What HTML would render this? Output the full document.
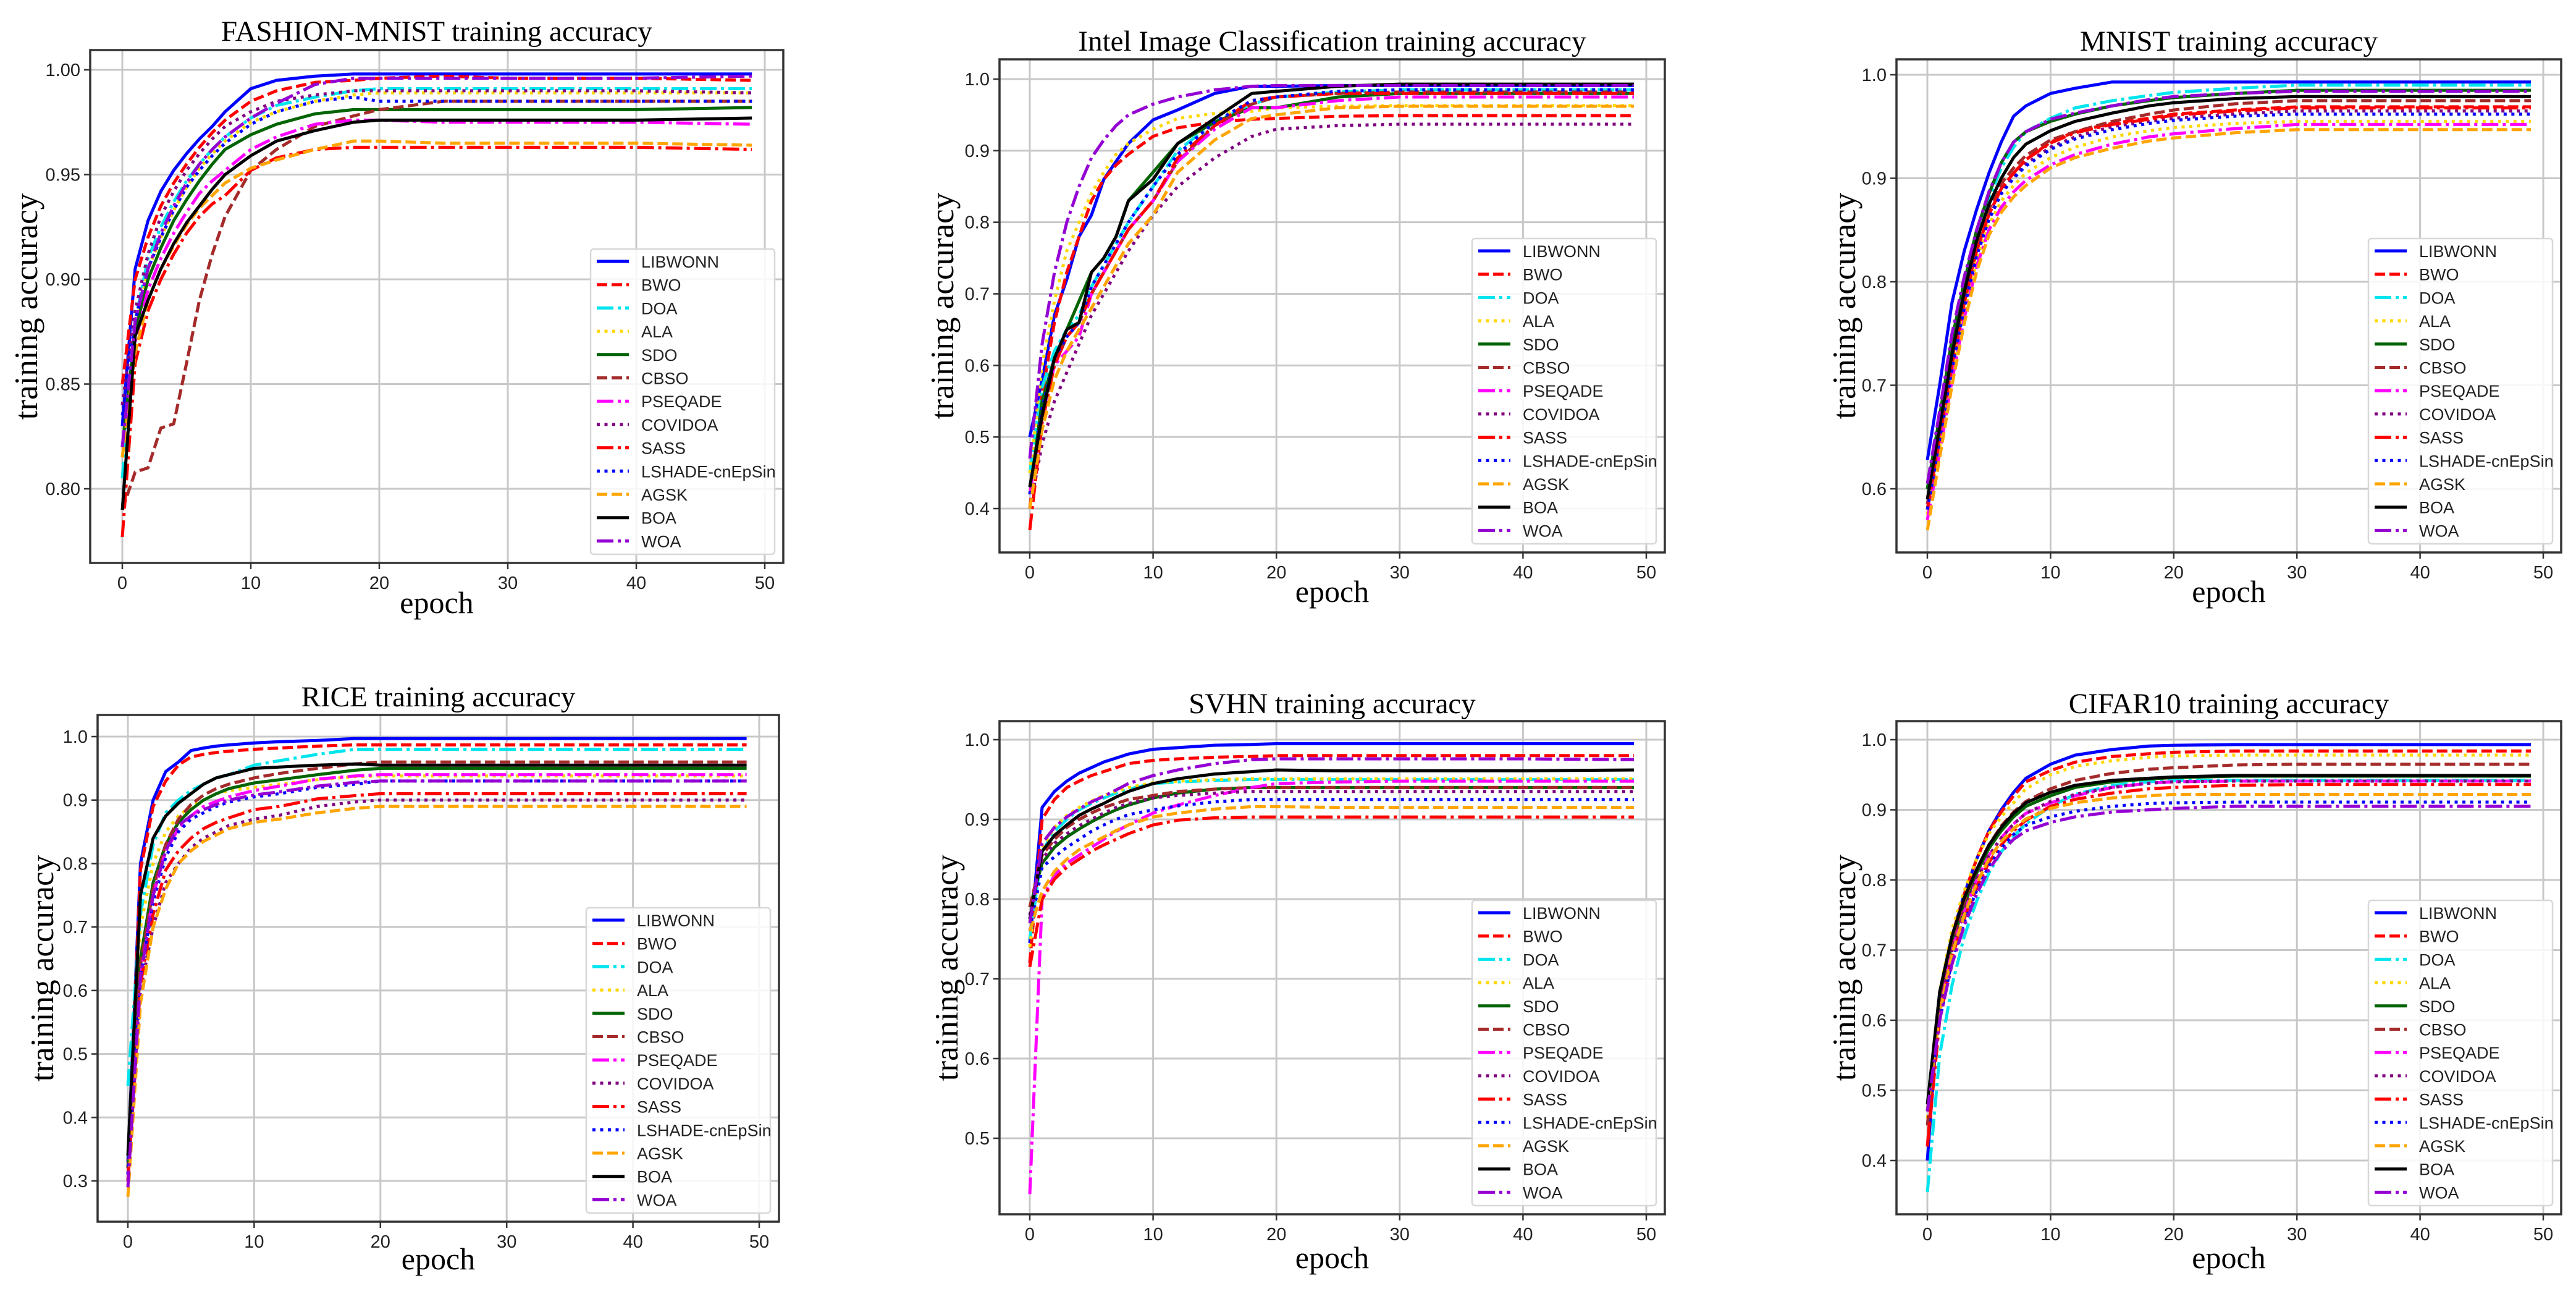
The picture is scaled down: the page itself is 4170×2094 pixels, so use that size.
<!DOCTYPE html>
<html><head><meta charset="utf-8"><style>
html,body{margin:0;padding:0;background:#fff}
svg{display:block}
</style></head><body>
<svg id="fig" xmlns="http://www.w3.org/2000/svg" width="4170" height="2094" viewBox="0 0 4170 2094"></svg>
<script>
const epochs=[0,1,2,3,4,5,6,7,8,10,12,15,18,20,25,30,40,49];
const seriesNames=["LIBWONN","BWO","DOA","ALA","SDO","CBSO","PSEQADE","COVIDOA","SASS","LSHADE-cnEpSin","AGSK","BOA","WOA"];
const xTicks=[0,10,20,30,40,50];
const fashionTicks=[0.80,0.85,0.90,0.95,1.00];
const intelTicks=[0.4,0.5,0.6,0.7,0.8,0.9,1.0];
const mnistTicks=[0.6,0.7,0.8,0.9,1.0];
const riceTicks=[0.3,0.4,0.5,0.6,0.7,0.8,0.9,1.0];
const svhnTicks=[0.5,0.6,0.7,0.8,0.9,1.0];
const cifarTicks=[0.4,0.5,0.6,0.7,0.8,0.9,1.0];

const fashion=[
[0.83,0.905,0.928,0.942,0.952,0.96,0.967,0.973,0.98,0.991,0.995,0.997,0.998,0.998,0.998,0.998,0.998,0.998],
[0.85,0.90,0.92,0.935,0.946,0.955,0.963,0.97,0.976,0.985,0.99,0.994,0.995,0.996,0.997,0.996,0.996,0.995],
[0.805,0.88,0.91,0.925,0.937,0.947,0.955,0.962,0.968,0.977,0.983,0.987,0.99,0.991,0.991,0.991,0.991,0.991],
[0.815,0.875,0.905,0.92,0.933,0.944,0.953,0.96,0.966,0.975,0.98,0.985,0.988,0.989,0.989,0.989,0.989,0.989],
[0.82,0.875,0.90,0.915,0.928,0.938,0.947,0.955,0.962,0.969,0.974,0.979,0.981,0.981,0.981,0.981,0.981,0.982],
[0.79,0.808,0.81,0.829,0.831,0.86,0.89,0.912,0.93,0.952,0.962,0.973,0.978,0.981,0.985,0.985,0.985,0.985],
[0.82,0.87,0.895,0.91,0.922,0.932,0.941,0.947,0.952,0.962,0.968,0.974,0.976,0.976,0.975,0.975,0.975,0.974],
[0.84,0.885,0.912,0.93,0.942,0.952,0.96,0.967,0.973,0.98,0.985,0.988,0.99,0.99,0.99,0.99,0.99,0.989],
[0.777,0.86,0.885,0.90,0.912,0.922,0.93,0.936,0.94,0.952,0.958,0.962,0.963,0.963,0.963,0.963,0.963,0.962],
[0.835,0.88,0.905,0.92,0.933,0.944,0.952,0.959,0.965,0.974,0.98,0.985,0.987,0.985,0.985,0.985,0.985,0.985],
[0.815,0.865,0.89,0.905,0.916,0.926,0.934,0.94,0.946,0.953,0.957,0.962,0.966,0.966,0.965,0.965,0.965,0.964],
[0.79,0.873,0.89,0.905,0.917,0.927,0.935,0.943,0.95,0.959,0.966,0.971,0.975,0.976,0.976,0.976,0.976,0.977],
[0.82,0.88,0.905,0.922,0.935,0.946,0.955,0.962,0.968,0.977,0.984,0.993,0.996,0.996,0.996,0.996,0.996,0.997]];
const intel=[
[0.50,0.58,0.67,0.72,0.78,0.81,0.86,0.885,0.91,0.943,0.957,0.98,0.99,0.99,0.991,0.991,0.991,0.991],
[0.40,0.56,0.66,0.73,0.78,0.83,0.86,0.88,0.895,0.92,0.932,0.94,0.944,0.945,0.948,0.949,0.949,0.949],
[0.45,0.57,0.62,0.65,0.67,0.71,0.74,0.77,0.80,0.85,0.90,0.94,0.965,0.975,0.982,0.985,0.985,0.985],
[0.45,0.60,0.69,0.76,0.80,0.84,0.87,0.895,0.91,0.93,0.945,0.952,0.955,0.96,0.962,0.963,0.963,0.963],
[0.42,0.55,0.61,0.65,0.69,0.73,0.75,0.78,0.83,0.87,0.91,0.94,0.96,0.96,0.975,0.98,0.98,0.98],
[0.40,0.53,0.60,0.64,0.66,0.70,0.73,0.76,0.79,0.83,0.885,0.935,0.965,0.975,0.98,0.982,0.982,0.982],
[0.42,0.53,0.60,0.62,0.64,0.70,0.73,0.76,0.79,0.83,0.885,0.93,0.96,0.96,0.97,0.975,0.975,0.975],
[0.40,0.49,0.55,0.59,0.63,0.67,0.70,0.73,0.76,0.81,0.85,0.89,0.92,0.93,0.935,0.937,0.937,0.937],
[0.37,0.52,0.60,0.64,0.66,0.70,0.73,0.76,0.79,0.83,0.89,0.935,0.97,0.975,0.98,0.98,0.98,0.98],
[0.42,0.54,0.61,0.64,0.66,0.71,0.74,0.77,0.80,0.85,0.895,0.94,0.97,0.975,0.983,0.985,0.985,0.985],
[0.40,0.51,0.58,0.62,0.65,0.68,0.71,0.74,0.77,0.81,0.87,0.915,0.945,0.95,0.96,0.962,0.962,0.962],
[0.43,0.53,0.61,0.65,0.66,0.73,0.75,0.78,0.83,0.86,0.91,0.945,0.98,0.983,0.99,0.993,0.993,0.993],
[0.47,0.63,0.73,0.80,0.85,0.89,0.915,0.935,0.95,0.965,0.975,0.985,0.99,0.991,0.991,0.991,0.991,0.991]];
const mnist=[
[0.628,0.70,0.78,0.83,0.87,0.905,0.935,0.96,0.97,0.982,0.987,0.993,0.993,0.993,0.993,0.993,0.993,0.993],
[0.58,0.65,0.72,0.78,0.83,0.865,0.89,0.905,0.918,0.935,0.945,0.953,0.958,0.962,0.966,0.969,0.969,0.969],
[0.60,0.67,0.74,0.80,0.85,0.88,0.91,0.93,0.945,0.958,0.968,0.975,0.98,0.983,0.987,0.99,0.99,0.99],
[0.575,0.64,0.71,0.77,0.82,0.855,0.878,0.893,0.905,0.92,0.93,0.94,0.946,0.949,0.953,0.955,0.955,0.955],
[0.60,0.67,0.745,0.80,0.85,0.885,0.915,0.935,0.945,0.955,0.962,0.97,0.975,0.978,0.982,0.985,0.985,0.985],
[0.585,0.655,0.725,0.785,0.835,0.87,0.895,0.91,0.922,0.937,0.945,0.955,0.962,0.966,0.972,0.975,0.975,0.975],
[0.57,0.635,0.705,0.765,0.815,0.85,0.872,0.887,0.898,0.913,0.923,0.933,0.94,0.943,0.948,0.952,0.952,0.952],
[0.58,0.648,0.718,0.778,0.828,0.862,0.887,0.902,0.914,0.93,0.94,0.95,0.955,0.958,0.962,0.965,0.965,0.965],
[0.58,0.65,0.72,0.78,0.83,0.865,0.89,0.905,0.918,0.934,0.944,0.952,0.957,0.961,0.965,0.968,0.968,0.968],
[0.58,0.645,0.715,0.775,0.825,0.86,0.885,0.90,0.912,0.928,0.938,0.947,0.953,0.956,0.96,0.962,0.962,0.962],
[0.56,0.63,0.70,0.76,0.81,0.845,0.867,0.882,0.893,0.91,0.92,0.929,0.936,0.939,0.944,0.947,0.947,0.947],
[0.59,0.66,0.73,0.79,0.84,0.875,0.90,0.92,0.933,0.946,0.955,0.963,0.97,0.973,0.977,0.979,0.979,0.979],
[0.605,0.675,0.75,0.805,0.85,0.887,0.915,0.935,0.945,0.957,0.963,0.97,0.976,0.979,0.982,0.984,0.984,0.984]];
const rice=[
[0.33,0.80,0.90,0.945,0.96,0.978,0.982,0.985,0.987,0.99,0.992,0.994,0.997,0.997,0.997,0.997,0.997,0.997],
[0.32,0.79,0.89,0.93,0.955,0.968,0.972,0.975,0.977,0.98,0.982,0.985,0.987,0.987,0.987,0.987,0.987,0.987],
[0.45,0.72,0.83,0.88,0.90,0.915,0.925,0.935,0.94,0.955,0.962,0.972,0.98,0.98,0.98,0.98,0.98,0.98],
[0.30,0.70,0.80,0.85,0.875,0.89,0.90,0.91,0.915,0.92,0.925,0.932,0.937,0.938,0.938,0.938,0.938,0.938],
[0.32,0.65,0.77,0.83,0.865,0.885,0.90,0.91,0.918,0.927,0.932,0.94,0.947,0.95,0.95,0.95,0.95,0.95],
[0.31,0.64,0.76,0.83,0.87,0.893,0.908,0.918,0.925,0.935,0.942,0.95,0.957,0.96,0.96,0.96,0.96,0.96],
[0.30,0.62,0.75,0.82,0.855,0.875,0.89,0.898,0.905,0.915,0.922,0.933,0.938,0.94,0.94,0.94,0.94,0.94],
[0.30,0.60,0.70,0.77,0.80,0.825,0.84,0.85,0.86,0.87,0.876,0.89,0.897,0.90,0.90,0.90,0.90,0.90],
[0.30,0.61,0.72,0.79,0.82,0.84,0.855,0.865,0.872,0.885,0.89,0.902,0.907,0.91,0.91,0.91,0.91,0.91],
[0.31,0.62,0.74,0.81,0.85,0.87,0.88,0.89,0.897,0.905,0.91,0.92,0.925,0.93,0.93,0.93,0.93,0.93],
[0.275,0.58,0.70,0.76,0.80,0.82,0.835,0.845,0.855,0.865,0.87,0.88,0.887,0.89,0.89,0.89,0.89,0.89],
[0.34,0.75,0.84,0.875,0.895,0.91,0.925,0.935,0.94,0.95,0.952,0.955,0.957,0.955,0.955,0.955,0.955,0.955],
[0.29,0.62,0.75,0.82,0.86,0.875,0.885,0.893,0.90,0.908,0.913,0.922,0.928,0.93,0.93,0.93,0.93,0.93]];
const svhn=[
[0.745,0.915,0.935,0.948,0.958,0.965,0.972,0.977,0.982,0.988,0.99,0.993,0.994,0.995,0.995,0.995,0.995,0.995],
[0.72,0.90,0.925,0.94,0.948,0.955,0.96,0.965,0.97,0.974,0.976,0.978,0.979,0.98,0.98,0.98,0.98,0.98],
[0.75,0.86,0.885,0.90,0.912,0.92,0.927,0.933,0.938,0.945,0.947,0.949,0.95,0.95,0.95,0.95,0.95,0.95],
[0.74,0.865,0.89,0.905,0.915,0.923,0.93,0.935,0.94,0.946,0.948,0.95,0.951,0.951,0.951,0.951,0.951,0.951],
[0.79,0.845,0.865,0.878,0.888,0.897,0.905,0.912,0.918,0.927,0.933,0.938,0.94,0.94,0.94,0.94,0.94,0.94],
[0.79,0.855,0.875,0.89,0.90,0.908,0.915,0.92,0.925,0.93,0.935,0.938,0.94,0.94,0.94,0.94,0.94,0.94],
[0.43,0.80,0.83,0.845,0.855,0.865,0.875,0.885,0.893,0.908,0.918,0.93,0.94,0.945,0.947,0.948,0.948,0.948],
[0.78,0.85,0.87,0.882,0.892,0.90,0.908,0.915,0.92,0.927,0.93,0.933,0.935,0.935,0.935,0.935,0.935,0.935],
[0.715,0.80,0.825,0.84,0.85,0.86,0.868,0.875,0.882,0.893,0.899,0.902,0.903,0.903,0.903,0.903,0.903,0.903],
[0.76,0.84,0.853,0.865,0.875,0.885,0.893,0.90,0.906,0.912,0.917,0.922,0.925,0.925,0.925,0.925,0.925,0.925],
[0.76,0.81,0.835,0.85,0.862,0.87,0.878,0.886,0.893,0.903,0.908,0.913,0.916,0.916,0.915,0.915,0.915,0.915],
[0.775,0.86,0.88,0.893,0.905,0.913,0.92,0.928,0.935,0.945,0.951,0.957,0.96,0.962,0.961,0.961,0.961,0.962],
[0.77,0.87,0.89,0.903,0.913,0.922,0.929,0.937,0.945,0.955,0.962,0.97,0.975,0.976,0.976,0.976,0.976,0.975]];
const cifar=[
[0.40,0.64,0.72,0.78,0.83,0.87,0.90,0.925,0.945,0.965,0.978,0.986,0.991,0.992,0.993,0.993,0.993,0.993],
[0.42,0.63,0.72,0.78,0.83,0.87,0.897,0.92,0.94,0.956,0.968,0.976,0.98,0.982,0.984,0.984,0.984,0.984],
[0.355,0.55,0.65,0.72,0.77,0.81,0.84,0.862,0.88,0.905,0.922,0.935,0.94,0.942,0.942,0.942,0.942,0.942],
[0.46,0.64,0.73,0.785,0.83,0.866,0.89,0.91,0.93,0.95,0.962,0.97,0.975,0.977,0.978,0.978,0.978,0.978],
[0.47,0.63,0.71,0.765,0.81,0.845,0.87,0.89,0.905,0.92,0.932,0.94,0.944,0.946,0.948,0.948,0.948,0.948],
[0.45,0.62,0.71,0.77,0.815,0.85,0.877,0.897,0.912,0.93,0.942,0.952,0.958,0.96,0.964,0.965,0.965,0.965],
[0.47,0.61,0.70,0.755,0.80,0.835,0.86,0.88,0.895,0.91,0.92,0.932,0.938,0.94,0.941,0.941,0.941,0.941],
[0.48,0.62,0.70,0.755,0.80,0.835,0.86,0.88,0.895,0.912,0.922,0.932,0.938,0.94,0.941,0.941,0.941,0.941],
[0.42,0.60,0.69,0.745,0.79,0.825,0.85,0.87,0.885,0.905,0.915,0.924,0.93,0.932,0.935,0.936,0.936,0.936],
[0.47,0.60,0.685,0.74,0.785,0.82,0.845,0.865,0.878,0.89,0.898,0.905,0.909,0.91,0.911,0.911,0.911,0.911],
[0.47,0.61,0.695,0.75,0.795,0.83,0.855,0.873,0.887,0.902,0.91,0.917,0.92,0.922,0.922,0.922,0.922,0.922],
[0.48,0.64,0.72,0.775,0.815,0.85,0.875,0.895,0.91,0.925,0.935,0.942,0.945,0.947,0.949,0.949,0.949,0.949],
[0.47,0.60,0.68,0.735,0.78,0.815,0.84,0.858,0.87,0.882,0.89,0.897,0.90,0.902,0.905,0.905,0.905,0.905]];

const colors=["#0000ff","#ff0000","#00e5ee","#ffd700","#006400","#a52a2a","#ff00ff","#800080","#ff0000","#0000ff","#ffa500","#000000","#9400d3"];
const dashes=["","17,7","27,7,5,7","5,7.5","","17,7","27,7,5,7","5,7.5","27,7,5,7","5,7.5","17,7","","27,7,5,7"];

const NS="http://www.w3.org/2000/svg";
const svg=document.getElementById('fig');
function mk(tag,attrs,parent){const e=document.createElementNS(NS,tag);for(const k in attrs)e.setAttribute(k,attrs[k]);(parent||svg).appendChild(e);return e;}

const panels=[
 {key:"fashion",title:"FASHION-MNIST training accuracy",data:fashion,ticks:fashionTicks,dec:2,box:[146,81,1268,911],x0:198,x50:1238,yv1:1.0,yp1:113,yv2:0.8,yp2:791,titleY:66,ylabX:42,epochY:992},
 {key:"intel",title:"Intel Image Classification training accuracy",data:intel,ticks:intelTicks,dec:1,box:[1618,96,2695,894],x0:1667,x50:2665,yv1:1.0,yp1:128,yv2:0.4,yp2:823,titleY:82,ylabX:1525,epochY:974},
 {key:"mnist",title:"MNIST training accuracy",data:mnist,ticks:mnistTicks,dec:1,box:[3070,96,4146,894],x0:3120,x50:4117,yv1:1.0,yp1:121,yv2:0.6,yp2:791,titleY:82,ylabX:2985,epochY:974},
 {key:"rice",title:"RICE training accuracy",data:rice,ticks:riceTicks,dec:1,box:[158,1157,1261,1977],x0:207,x50:1229,yv1:1.0,yp1:1192,yv2:0.3,yp2:1911,titleY:1143,ylabX:68,epochY:2054},
 {key:"svhn",title:"SVHN training accuracy",data:svhn,ticks:svhnTicks,dec:1,box:[1618,1167,2695,1965],x0:1667,x50:2665,yv1:1.0,yp1:1197,yv2:0.5,yp2:1842,titleY:1154,ylabX:1532,epochY:2052},
 {key:"cifar",title:"CIFAR10 training accuracy",data:cifar,ticks:cifarTicks,dec:1,box:[3070,1167,4146,1965],x0:3120,x50:4117,yv1:1.0,yp1:1197,yv2:0.4,yp2:1878,titleY:1154,ylabX:2985,epochY:2052}
];

panels.forEach(p=>{
 const g=mk('g',{});
 
 
 const [L,T,R,B]=p.box;
 const xs=e=>p.x0+(p.x50-p.x0)*e/50;
 const ys=v=>p.yp1+(p.yv1-v)*(p.yp2-p.yp1)/(p.yv1-p.yv2);
 const cx=(L+R)/2, cy=(T+B)/2;
 const t=mk('text',{x:cx,y:p.titleY,'text-anchor':'middle','font-family':'Liberation Serif, serif','font-size':47,fill:'#000'},g);
 t.textContent=p.title;
 
 
 const clipId='clip-'+p.key;
 const cp=mk('clipPath',{id:clipId},g);mk('rect',{x:L,y:T,width:R-L,height:B-T},cp);
 xTicks.forEach(v=>{
  const gl=mk('line',{x1:xs(v),x2:xs(v),y1:T,y2:B,stroke:'#c8c8c8','stroke-width':3},g);
  
  
  mk('line',{x1:xs(v),x2:xs(v),y1:B,y2:B+10,stroke:'#333','stroke-width':2.5},g);
  const tl=mk('text',{x:xs(v),y:B+42,'text-anchor':'middle','font-family':'Liberation Sans, sans-serif','font-size':29,fill:'#222'},g);
  tl.textContent=String(v);
  
  
 });
 p.ticks.forEach(v=>{
  const gl=mk('line',{x1:L,x2:R,y1:ys(v),y2:ys(v),stroke:'#c8c8c8','stroke-width':3},g);
  
  
  mk('line',{x1:L-10,x2:L,y1:ys(v),y2:ys(v),stroke:'#333','stroke-width':2.5},g);
  const tl=mk('text',{x:L-16,y:ys(v)+10,'text-anchor':'end','font-family':'Liberation Sans, sans-serif','font-size':29,fill:'#222'},g);
  tl.textContent=v.toFixed(p.dec);
  
  
 });
 const sg=mk('g',{'clip-path':'url(#'+clipId+')'},g);
 p.data.forEach((vals,i)=>{
  const pts=vals.map((v,j)=>xs(epochs[j]).toFixed(1)+','+ys(v).toFixed(1)).join(' ');
  const a={points:pts,fill:'none',stroke:colors[i],'stroke-width':5,'stroke-linejoin':'round'};
  if(dashes[i])a['stroke-dasharray']=dashes[i];
  const pl=mk('polyline',a,sg);
  
  
 });
 const fr=mk('rect',{x:L,y:T,width:R-L,height:B-T,fill:'none',stroke:'#333','stroke-width':3.5},g);
 
 
 const xl=mk('text',{x:cx,y:p.epochY,'text-anchor':'middle','font-family':'Liberation Serif, serif','font-size':50,fill:'#000'},g);
 xl.textContent='epoch';
 
 
 const yl=mk('text',{x:0,y:0,'text-anchor':'middle','font-family':'Liberation Serif, serif','font-size':53,fill:'#000',transform:'translate('+(p.ylabX+18)+','+cy+') rotate(-90)'},g);
 yl.textContent='training accuracy';
 
 
 const LW=298, LH=494;
 const lx=R-14-LW, ly=B-14-LH;
 const lg=mk('g',{},g);
 
 
 mk('rect',{x:lx,y:ly,width:LW,height:LH,rx:5,fill:'#fff','fill-opacity':0.85,stroke:'#d8d8d8','stroke-width':2.5},lg);
 seriesNames.forEach((n,i)=>{
  const ry=ly+20+i*37.7;
  const ent=mk('g',{},lg);
  
  
  const a={x1:lx+10,x2:lx+62,y1:ry,y2:ry,stroke:colors[i],'stroke-width':5};
  if(dashes[i])a['stroke-dasharray']=dashes[i];
  mk('line',a,ent);
  const tx=mk('text',{x:lx+82,y:ry+10,'font-family':'Liberation Sans, sans-serif','font-size':27,fill:'#222'},ent);
  tx.textContent=n;
 });
});
</script>
</body></html>
